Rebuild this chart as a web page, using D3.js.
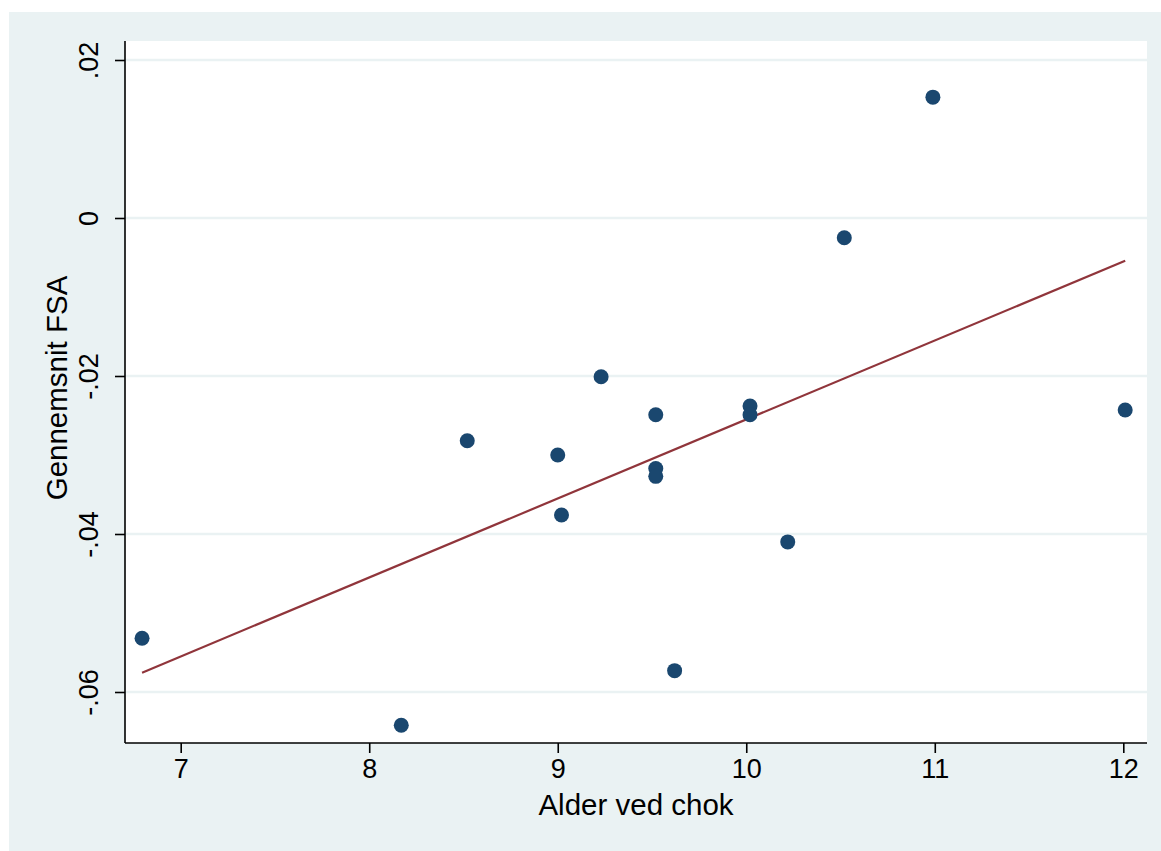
<!DOCTYPE html>
<meta charset="utf-8">
<title>Alder ved chok vs FSA</title>
<style>
  body { margin: 0; background: #fff; }
  text { font-family: "Liberation Sans", Arial, sans-serif; fill: #000; }
</style>
<body>
<script src="https://cdn.jsdelivr.net/npm/d3@7"></script>
<script>

var width = 1161,
    height = 851;

// data
var ages = [6.795, 8.17, 8.52, 9.0, 9.02, 9.23, 9.52, 9.52, 9.52, 9.62, 10.02, 10.02, 10.22, 10.52, 10.99, 12.01];
var fsa  = [-0.0532, -0.0642, -0.0282, -0.0300, -0.0376, -0.0201, -0.0249, -0.0317, -0.0327, -0.0573, -0.0238, -0.0249, -0.0410, -0.0025, 0.0153, -0.0243];
var xTicks = [7, 8, 9, 10, 11, 12];
var yTicks = [0.02, 0, -0.02, -0.04, -0.06];
var yTickLabels = [".02", "0", "-.02", "-.04", "-.06"];

var plot = {left: 125, right: 1147, top: 41, bottom: 743};

var x = d3.scaleLinear().domain([7, 12]).range([180.7, 1123.3]);
var y = d3.scaleLinear().domain([-0.06, 0.02]).range([692, 60]);

var svg = d3.select("body").append("svg")
    .attr("width", width)
    .attr("height", height);

// outer background
svg.append("rect")
    .attr("x", 9).attr("y", 12)
    .attr("width", width - 9).attr("height", height - 12)
    .attr("fill", "#EAF2F3");

// plot region
svg.append("rect")
    .attr("x", plot.left).attr("y", plot.top)
    .attr("width", plot.right - plot.left).attr("height", plot.bottom - plot.top)
    .attr("fill", "#fff");

// gridlines
svg.selectAll(".grid").data(yTicks).enter().append("line")
    .attr("class", "grid")
    .attr("x1", plot.left).attr("x2", plot.right)
    .attr("y1", function(d){ return y(d); })
    .attr("y2", function(d){ return y(d); })
    .attr("stroke", "#EAF2F3")
    .attr("stroke-width", 2.5);

// fitted line (OLS over the points)
var pts = ages.map(function(a, i){ return {x: a, y: fsa[i]}; });
var mx = d3.mean(ages), my = d3.mean(fsa);
var sxy = d3.sum(pts, function(d){ return (d.x - mx) * (d.y - my); });
var sxx = d3.sum(pts, function(d){ return (d.x - mx) * (d.x - mx); });
var slope = sxy / sxx, icpt = my - slope * mx;
var ext = d3.extent(ages);

svg.append("line")
    .attr("x1", x(ext[0])).attr("y1", y(icpt + slope * ext[0]))
    .attr("x2", x(ext[1])).attr("y2", y(icpt + slope * ext[1]))
    .attr("stroke", "#90353B")
    .attr("stroke-width", 2.2);

// points
svg.selectAll(".pt").data(pts).enter().append("circle")
    .attr("class", "pt")
    .attr("cx", function(d){ return x(d.x); })
    .attr("cy", function(d){ return y(d.y); })
    .attr("r", 7.5)
    .attr("fill", "#1A476F");

// axes
var xAxis = d3.axisBottom(x).tickValues(xTicks).tickSize(10).tickPadding(6).tickFormat(d3.format("d"));
var gx = svg.append("g")
    .attr("transform", "translate(0," + plot.bottom + ")")
    .call(xAxis);
gx.select(".domain").attr("d", "M" + plot.left + ",0H" + plot.right);

var yAxis = d3.axisLeft(y).tickValues(yTicks).tickSize(10)
    .tickFormat(function(d, i){ return yTickLabels[i]; });
var gy = svg.append("g")
    .attr("transform", "translate(" + plot.left + ",0)")
    .call(yAxis);
gy.select(".domain").attr("d", "M0," + plot.top + "V" + plot.bottom);

svg.selectAll(".domain").attr("stroke", "#000").attr("stroke-width", 1.6);
svg.selectAll(".tick line").attr("stroke", "#000").attr("stroke-width", 1.6);
svg.selectAll(".tick text").attr("font-size", 27).attr("fill", "#000")
    .style("font-family", "'Liberation Sans', Arial, sans-serif");

gx.selectAll(".tick text").attr("y", 16).attr("dy", "0.71em");

gy.selectAll(".tick text")
    .attr("x", null).attr("dy", null)
    .attr("text-anchor", "middle")
    .attr("transform", "translate(-27,0) rotate(-90)");

// axis titles
svg.append("text")
    .attr("x", (plot.left + plot.right) / 2)
    .attr("y", 815)
    .attr("text-anchor", "middle")
    .attr("font-size", 29.5)
    .text("Alder ved chok");

svg.append("text")
    .attr("transform", "translate(67," + ((plot.top + plot.bottom) / 2 - 4) + ") rotate(-90)")
    .attr("text-anchor", "middle")
    .attr("font-size", 29.5)
    .text("Gennemsnit FSA");

</script>
</body>
